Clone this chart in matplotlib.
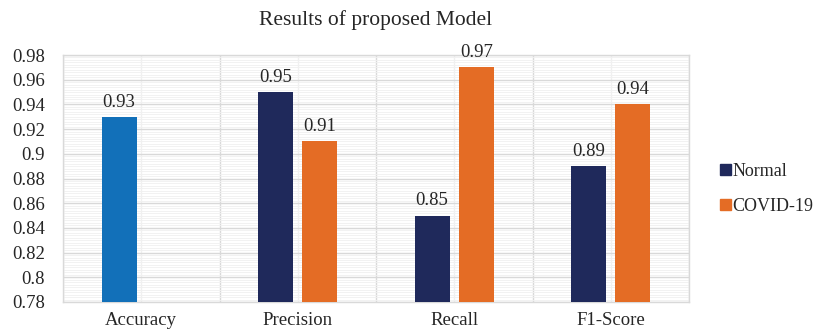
import numpy as np
import matplotlib.pyplot as plt
from matplotlib.patches import Patch
from matplotlib.ticker import MultipleLocator

plt.rcParams['font.family'] = ['Liberation Serif', 'DejaVu Serif']

metrics = ['Accuracy', 'Precision', 'Recall', 'F1-Score']
normal = [0.93, 0.95, 0.85, 0.89]
covid = [np.nan, 0.91, 0.97, 0.94]
bar_labels = ['Normal', 'COVID-19']

navy = '#1F295B'
orange = '#E46C25'
blue = '#1270B9'
grid_major = '#D9D9D9'
grid_minor = '#F0F0F0'

fig = plt.figure(figsize=(8.16, 3.34), dpi=100)
ax = fig.add_axes([63 / 816, 1 - 302 / 334, 626 / 816, 247 / 334])

x = np.arange(len(metrics))
w = 0.225
off = 0.141

# accuracy has no per-class split, so its bar gets its own colour
normal_colors = [blue] + [navy] * (len(metrics) - 1)
ax.bar(x - off, np.array(normal) - 0.78, w, bottom=0.78, color=normal_colors, zorder=3)
ax.bar(x + off, np.array(covid) - 0.78, w, bottom=0.78, color=orange, zorder=3)

for i in range(len(metrics)):
    ax.text(x[i] - off, normal[i] + 0.005, f'{normal[i]:.2f}', ha='center', va='bottom',
            fontsize=13.5, color='#262626')
    if not np.isnan(covid[i]):
        ax.text(x[i] + off, covid[i] + 0.005, f'{covid[i]:.2f}', ha='center', va='bottom',
                fontsize=13.5, color='#262626')

ax.set_xlim(-0.5, len(metrics) - 0.5)
ax.set_ylim(0.78, 0.98)
ax.yaxis.set_major_locator(MultipleLocator(0.02))
ax.yaxis.set_minor_locator(MultipleLocator(0.002))
ax.set_yticklabels([f'{v:g}' for v in np.round(ax.get_yticks(), 2)])
ax.set_xticks(x)
ax.set_xticklabels(metrics)
ax.set_xticks(np.arange(-0.5, len(metrics)), minor=True)

ax.grid(axis='y', which='major', color=grid_major, lw=1.0, zorder=1)
ax.grid(axis='y', which='minor', color=grid_minor, lw=0.6, zorder=0)
ax.grid(axis='x', which='major', color=grid_minor, lw=1.0, zorder=1)
ax.grid(axis='x', which='minor', color=grid_major, lw=1.0, zorder=1)
ax.set_ylim(0.78, 0.98)

for s in ax.spines.values():
    s.set_color(grid_major)
    s.set_linewidth(1.0)
ax.tick_params(axis='both', which='both', length=0, labelsize=13.5, colors='#262626')
ax.tick_params(axis='x', pad=7)
ax.tick_params(axis='y', pad=13)

fig.text(376 / 816, 1 - 20 / 334, 'Results of proposed Model', ha='center', va='center',
         fontsize=15.5, color='#262626')

handles = [Patch(color=navy), Patch(color=orange)]
fig.legend(handles, bar_labels, loc='center left', bbox_to_anchor=(711 / 816, 1 - 189 / 334),
           frameon=False, fontsize=13, handlelength=0.6, handleheight=0.6,
           handletextpad=0.1, labelspacing=1.0, labelcolor='#262626', borderpad=0)

fig.savefig('out.png', dpi=100)
